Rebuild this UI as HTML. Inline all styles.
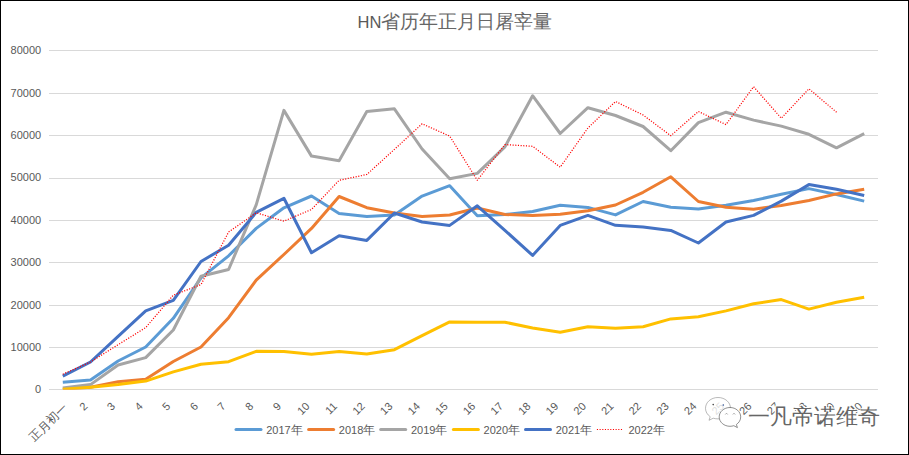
<!DOCTYPE html>
<html><head><meta charset="utf-8">
<style>
html,body{margin:0;padding:0;background:#fff;}
body{width:909px;height:455px;overflow:hidden;position:relative;}
svg{position:absolute;left:0;top:0;}
.ax{font-family:"Liberation Sans",sans-serif;font-size:11px;fill:#595959;}
.cj{font-size:11.5px;}
.cjl{font-size:12px;}
.ttl{font-family:"Liberation Sans",sans-serif;font-size:18.67px;fill:#595959;font-weight:300;}
.wm{position:absolute;left:748px;top:401.5px;font-family:"Liberation Sans",sans-serif;font-size:21.8px;color:#666;white-space:nowrap;
 text-shadow:1px 1px 0 #fff,-1px -1px 0 #fff,1px -1px 0 #fff,-1px 1px 0 #fff;line-height:30px;}
</style></head><body>
<svg width="909" height="455" viewBox="0 0 909 455">
<defs><clipPath id="pc"><rect x="49" y="40" width="829" height="349.5"/></clipPath></defs>
<rect x="0.5" y="0.5" width="908" height="454" fill="#fff" stroke="#000" stroke-width="1"/>
<text x="455" y="28" text-anchor="middle" class="ttl"><tspan style="font-size:16.5px">HN</tspan><tspan style="fill:#666">省历年正月日屠宰量</tspan></text>
<line x1="49" y1="389.5" x2="878" y2="389.5" stroke="#D9D9D9" stroke-width="1"/>
<line x1="49" y1="347.5" x2="878" y2="347.5" stroke="#D9D9D9" stroke-width="1"/>
<line x1="49" y1="305.5" x2="878" y2="305.5" stroke="#D9D9D9" stroke-width="1"/>
<line x1="49" y1="262.5" x2="878" y2="262.5" stroke="#D9D9D9" stroke-width="1"/>
<line x1="49" y1="220.5" x2="878" y2="220.5" stroke="#D9D9D9" stroke-width="1"/>
<line x1="49" y1="178.5" x2="878" y2="178.5" stroke="#D9D9D9" stroke-width="1"/>
<line x1="49" y1="135.5" x2="878" y2="135.5" stroke="#D9D9D9" stroke-width="1"/>
<line x1="49" y1="93.5" x2="878" y2="93.5" stroke="#D9D9D9" stroke-width="1"/>
<line x1="49" y1="50.5" x2="878" y2="50.5" stroke="#D9D9D9" stroke-width="1"/>
<text x="41.2" y="393.3" text-anchor="end" class="ax">0</text>
<text x="41.2" y="350.9" text-anchor="end" class="ax">10000</text>
<text x="41.2" y="308.5" text-anchor="end" class="ax">20000</text>
<text x="41.2" y="266.1" text-anchor="end" class="ax">30000</text>
<text x="41.2" y="223.8" text-anchor="end" class="ax">40000</text>
<text x="41.2" y="181.4" text-anchor="end" class="ax">50000</text>
<text x="41.2" y="139.0" text-anchor="end" class="ax">60000</text>
<text x="41.2" y="96.6" text-anchor="end" class="ax">70000</text>
<text x="41.2" y="54.2" text-anchor="end" class="ax">80000</text>
<polyline points="62.8,382.3 90.5,380.0 118.1,361.0 145.7,347.0 173.3,318.3 201.0,277.8 228.6,255.8 256.2,228.4 283.9,207.8 311.5,196.0 339.1,213.4 366.8,216.4 394.4,215.1 422.1,196.1 449.7,185.7 477.3,215.7 504.9,214.5 532.6,211.5 560.2,205.3 587.9,207.4 615.5,214.9 643.1,201.5 670.8,207.3 698.4,209.1 726.0,205.3 753.6,200.5 781.3,194.3 808.9,188.6 836.5,194.5 864.2,201.1" fill="none" stroke="#5B9BD5" stroke-width="3" stroke-linejoin="round" stroke-linecap="butt" clip-path="url(#pc)"/>
<polyline points="62.8,389.3 90.5,387.3 118.1,381.8 145.7,379.3 173.3,361.5 201.0,347.0 228.6,317.7 256.2,280.1 283.9,254.5 311.5,228.4 339.1,196.5 366.8,207.7 394.4,213.0 422.1,216.4 449.7,215.0 477.3,208.0 504.9,214.5 532.6,215.4 560.2,214.3 587.9,210.8 615.5,205.0 643.1,192.3 670.8,176.8 698.4,201.5 726.0,207.3 753.6,209.2 781.3,205.4 808.9,200.5 836.5,193.9 864.2,189.2" fill="none" stroke="#ED7D31" stroke-width="3" stroke-linejoin="round" stroke-linecap="butt" clip-path="url(#pc)"/>
<polyline points="62.8,388.0 90.5,384.6 118.1,365.0 145.7,357.6 173.3,330.0 201.0,276.3 228.6,269.5 256.2,204.9 283.9,110.4 311.5,156.1 339.1,160.7 366.8,111.5 394.4,108.8 422.1,149.0 449.7,178.7 477.3,173.4 504.9,146.9 532.6,95.7 560.2,133.5 587.9,107.7 615.5,115.5 643.1,126.5 670.8,150.7 698.4,122.6 726.0,112.2 753.6,120.1 781.3,126.1 808.9,134.3 836.5,147.8 864.2,133.7" fill="none" stroke="#A5A5A5" stroke-width="3" stroke-linejoin="round" stroke-linecap="butt" clip-path="url(#pc)"/>
<polyline points="62.8,389.3 90.5,387.2 118.1,384.6 145.7,381.1 173.3,371.9 201.0,364.3 228.6,361.7 256.2,351.3 283.9,351.5 311.5,354.2 339.1,351.5 366.8,353.9 394.4,349.7 422.1,335.7 449.7,321.9 477.3,322.2 504.9,322.2 532.6,328.0 560.2,332.3 587.9,326.7 615.5,328.3 643.1,326.7 670.8,318.9 698.4,316.7 726.0,310.9 753.6,303.8 781.3,299.6 808.9,309.1 836.5,302.2 864.2,297.2" fill="none" stroke="#FFC000" stroke-width="3" stroke-linejoin="round" stroke-linecap="butt" clip-path="url(#pc)"/>
<polyline points="62.8,376.2 90.5,362.0 118.1,336.4 145.7,310.8 173.3,300.3 201.0,261.5 228.6,245.2 256.2,212.4 283.9,198.3 311.5,252.7 339.1,235.8 366.8,240.4 394.4,213.0 422.1,222.0 449.7,225.4 477.3,205.8 504.9,230.3 532.6,255.4 560.2,225.4 587.9,215.4 615.5,225.3 643.1,226.9 670.8,230.4 698.4,243.0 726.0,222.0 753.6,215.4 781.3,201.1 808.9,184.6 836.5,189.2 864.2,195.5" fill="none" stroke="#4472C4" stroke-width="3" stroke-linejoin="round" stroke-linecap="butt" clip-path="url(#pc)"/>
<polyline points="62.8,374.2 90.5,362.0 118.1,344.7 145.7,327.6 173.3,295.2 201.0,284.6 228.6,232.0 256.2,212.8 283.9,221.1 311.5,209.5 339.1,180.3 366.8,174.5 394.4,149.4 422.1,123.8 449.7,136.1 477.3,180.3 504.9,144.6 532.6,146.3 560.2,167.2 587.9,128.0 615.5,101.5 643.1,115.0 670.8,135.7 698.4,111.5 726.0,124.6 753.6,86.7 781.3,118.2 808.9,88.8 836.5,112.2" fill="none" stroke="#FF0000" stroke-width="1.25" stroke-dasharray="1.1 1.57" stroke-linejoin="round" clip-path="url(#pc)"/>
<text x="65.3" y="405.5" text-anchor="end" class="ax cjl" transform="rotate(-45 65.3 405.5)" dy="4">正月初一</text>
<text x="85.5" y="404" text-anchor="end" class="ax" transform="rotate(-45 85.5 404)" dy="4">2</text>
<text x="113.1" y="404" text-anchor="end" class="ax" transform="rotate(-45 113.1 404)" dy="4">3</text>
<text x="140.7" y="404" text-anchor="end" class="ax" transform="rotate(-45 140.7 404)" dy="4">4</text>
<text x="168.3" y="404" text-anchor="end" class="ax" transform="rotate(-45 168.3 404)" dy="4">5</text>
<text x="196.0" y="404" text-anchor="end" class="ax" transform="rotate(-45 196.0 404)" dy="4">6</text>
<text x="223.6" y="404" text-anchor="end" class="ax" transform="rotate(-45 223.6 404)" dy="4">7</text>
<text x="251.2" y="404" text-anchor="end" class="ax" transform="rotate(-45 251.2 404)" dy="4">8</text>
<text x="278.9" y="404" text-anchor="end" class="ax" transform="rotate(-45 278.9 404)" dy="4">9</text>
<text x="307.5" y="404" text-anchor="end" class="ax" transform="rotate(-45 307.5 404)" dy="4">10</text>
<text x="335.1" y="404" text-anchor="end" class="ax" transform="rotate(-45 335.1 404)" dy="4">11</text>
<text x="362.8" y="404" text-anchor="end" class="ax" transform="rotate(-45 362.8 404)" dy="4">12</text>
<text x="390.4" y="404" text-anchor="end" class="ax" transform="rotate(-45 390.4 404)" dy="4">13</text>
<text x="418.1" y="404" text-anchor="end" class="ax" transform="rotate(-45 418.1 404)" dy="4">14</text>
<text x="445.7" y="404" text-anchor="end" class="ax" transform="rotate(-45 445.7 404)" dy="4">15</text>
<text x="473.3" y="404" text-anchor="end" class="ax" transform="rotate(-45 473.3 404)" dy="4">16</text>
<text x="500.9" y="404" text-anchor="end" class="ax" transform="rotate(-45 500.9 404)" dy="4">17</text>
<text x="528.6" y="404" text-anchor="end" class="ax" transform="rotate(-45 528.6 404)" dy="4">18</text>
<text x="556.2" y="404" text-anchor="end" class="ax" transform="rotate(-45 556.2 404)" dy="4">19</text>
<text x="583.9" y="404" text-anchor="end" class="ax" transform="rotate(-45 583.9 404)" dy="4">20</text>
<text x="611.5" y="404" text-anchor="end" class="ax" transform="rotate(-45 611.5 404)" dy="4">21</text>
<text x="639.1" y="404" text-anchor="end" class="ax" transform="rotate(-45 639.1 404)" dy="4">22</text>
<text x="666.8" y="404" text-anchor="end" class="ax" transform="rotate(-45 666.8 404)" dy="4">23</text>
<text x="694.4" y="404" text-anchor="end" class="ax" transform="rotate(-45 694.4 404)" dy="4">24</text>
<text x="722.0" y="404" text-anchor="end" class="ax" transform="rotate(-45 722.0 404)" dy="4">25</text>
<text x="749.6" y="404" text-anchor="end" class="ax" transform="rotate(-45 749.6 404)" dy="4">26</text>
<text x="777.3" y="404" text-anchor="end" class="ax" transform="rotate(-45 777.3 404)" dy="4">27</text>
<text x="804.9" y="404" text-anchor="end" class="ax" transform="rotate(-45 804.9 404)" dy="4">28</text>
<text x="832.5" y="404" text-anchor="end" class="ax" transform="rotate(-45 832.5 404)" dy="4">29</text>
<text x="860.2" y="404" text-anchor="end" class="ax" transform="rotate(-45 860.2 404)" dy="4">30</text>
<line x1="236.0" y1="429.5" x2="261.0" y2="429.5" stroke="#5B9BD5" stroke-width="3" stroke-linecap="round"/>
<text x="266.2" y="433.5" class="ax">2017<tspan class="cj">年</tspan></text>
<line x1="308.6" y1="429.5" x2="333.6" y2="429.5" stroke="#ED7D31" stroke-width="3" stroke-linecap="round"/>
<text x="338.8" y="433.5" class="ax">2018<tspan class="cj">年</tspan></text>
<line x1="380.7" y1="429.5" x2="405.7" y2="429.5" stroke="#A5A5A5" stroke-width="3" stroke-linecap="round"/>
<text x="410.9" y="433.5" class="ax">2019<tspan class="cj">年</tspan></text>
<line x1="453.4" y1="429.5" x2="478.4" y2="429.5" stroke="#FFC000" stroke-width="3" stroke-linecap="round"/>
<text x="483.6" y="433.5" class="ax">2020<tspan class="cj">年</tspan></text>
<line x1="525.5" y1="429.5" x2="550.5" y2="429.5" stroke="#4472C4" stroke-width="3" stroke-linecap="round"/>
<text x="555.7" y="433.5" class="ax">2021<tspan class="cj">年</tspan></text>
<line x1="596.9" y1="429.5" x2="623" y2="429.5" stroke="#FF0000" stroke-width="1.2" stroke-dasharray="1.1 1.57"/>
<text x="628.5" y="433.5" class="ax">2022<tspan class="cj">年</tspan></text>
<g transform="translate(0,0)">
 <path d="M718,397.5 c-7,0 -12.5,4.8 -12.5,10.8 c0,3.4 1.8,6.4 4.7,8.4 l-1.2,3.6 l4.2,-2.1 c1.5,0.4 3.1,0.7 4.8,0.7 c7,0 12.5,-4.8 12.5,-10.6 c0,-6 -5.5,-10.8 -12.5,-10.8z" fill="rgba(255,255,255,0.8)" stroke="#8a8a8a" stroke-width="0.6"/>
 <circle cx="713.2" cy="404.6" r="0.8" fill="#444"/><circle cx="723.3" cy="405" r="0.8" fill="#2a4a8a"/>
 <path d="M730,407.5 c-6,0 -10.8,4.2 -10.8,9.4 c0,5.2 4.8,9.4 10.8,9.4 c1.3,0 2.6,-0.2 3.8,-0.6 l3.6,1.9 l-1,-3.1 c2.6,-1.7 4.3,-4.5 4.3,-7.6 c0,-5.2 -4.8,-9.4 -10.7,-9.4z" fill="#fff" stroke="#555" stroke-width="0.65"/>
 <path d="M725.3,414.5 l1.2,-1.3 l1.2,1.3 M732.8,414.5 l1.2,-1.3 l1.2,1.3" fill="none" stroke="#777" stroke-width="0.6"/>
</g>
</svg>
<div class="wm">一凡帝诺维奇</div>
</body></html>
